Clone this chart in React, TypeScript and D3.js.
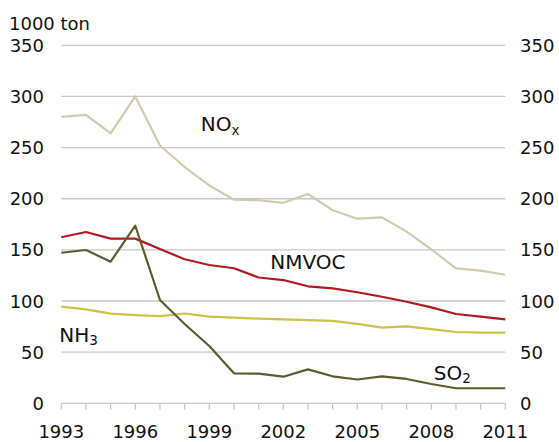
import React from "react";
import * as d3 from "d3";

const years = d3.range(1993, 2012);
const noxValues = [280, 282, 264, 300, 252, 231, 213, 199, 198.5, 196, 204.6, 188.7, 180.5, 181.8, 167.8, 150.5, 132, 129.7, 125.7];
const nmvocValues = [162.3, 167.5, 161, 161, 150.8, 140.8, 135.2, 132, 123, 120.5, 114.4, 112.4, 108.6, 104.2, 99.3, 93.8, 87.3, 84.7, 82.1];
const nh3Values = [94.5, 91.9, 87.6, 86.3, 85.3, 87.8, 84.8, 83.8, 82.7, 82.1, 81.4, 80.5, 77.7, 73.9, 75.2, 72.6, 69.7, 69, 69];
const so2Values = [147.2, 149.9, 138.5, 173.6, 101, 77.5, 56, 29.3, 29, 26, 33.2, 26.4, 23.3, 26.4, 23.8, 18.9, 14.7, 14.7, 14.7];
const yTicks = [0, 50, 100, 150, 200, 250, 300, 350];
const xTickLabels = [1993, 1996, 1999, 2002, 2005, 2008, 2011];

const W = 559;
const H = 442;
const FONT = "DejaVu Sans, sans-serif";

export default function App() {
  const x = d3.scaleLinear().domain([1993, 2011]).range([61.3, 505.3]);
  const y = d3.scaleLinear().domain([0, 350]).range([403.3, 45.3]);
  const line = d3
    .line<number>()
    .x((_, i) => x(years[i]))
    .y((d) => y(d));

  const series = [
    { values: noxValues, color: "#d2cbae" },
    { values: nmvocValues, color: "#ae1a1e" },
    { values: nh3Values, color: "#cbc246" },
    { values: so2Values, color: "#5e5b2c" },
  ];

  return (
    <svg
      width={W}
      height={H}
      style={{ position: "absolute", left: 0, top: 0, background: "#fff" }}
      fontFamily={FONT}
    >
      {yTicks.map((t) => (
        <line
          key={"g" + t}
          x1={x(1993)}
          x2={x(2011)}
          y1={y(t)}
          y2={y(t)}
          stroke="#c8c8c8"
          strokeWidth={1.3}
        />
      ))}
      {years.map((yr) => (
        <line
          key={"t" + yr}
          x1={x(yr)}
          x2={x(yr)}
          y1={y(0)}
          y2={y(0) + 6.5}
          stroke="#c8c8c8"
          strokeWidth={1.3}
        />
      ))}
      {yTicks.map((t) => (
        <text key={"l" + t} x={44} y={y(t) + 6.5} fontSize={18} textAnchor="end" fill="#111">
          {t}
        </text>
      ))}
      {yTicks.map((t) => (
        <text key={"r" + t} x={520} y={y(t) + 6.5} fontSize={18} textAnchor="start" fill="#111">
          {t}
        </text>
      ))}
      {xTickLabels.map((t) => (
        <text key={"x" + t} x={x(t)} y={437.5} fontSize={18} textAnchor="middle" fill="#111">
          {t}
        </text>
      ))}
      <text x={9} y={29.5} fontSize={18} fill="#111">
        1000 ton
      </text>
      {series.map((s, i) => (
        <path
          key={"s" + i}
          d={line(s.values) || ""}
          fill="none"
          stroke={s.color}
          strokeWidth={2.2}
          strokeLinejoin="round"
        />
      ))}
      <text x={200.7} y={130.7} fontSize={20} fill="#111">
        NO<tspan fontSize={13.5} dy={4}>x</tspan>
      </text>
      <text x={270.3} y={269.3} fontSize={20} fill="#111">
        NMVOC
      </text>
      <text x={59.3} y={342.3} fontSize={20} fill="#111">
        NH<tspan fontSize={13.5} dy={3}>3</tspan>
      </text>
      <text x={433.7} y={380} fontSize={20} fill="#111">
        SO<tspan fontSize={13.5} dy={2.5}>2</tspan>
      </text>
    </svg>
  );
}
